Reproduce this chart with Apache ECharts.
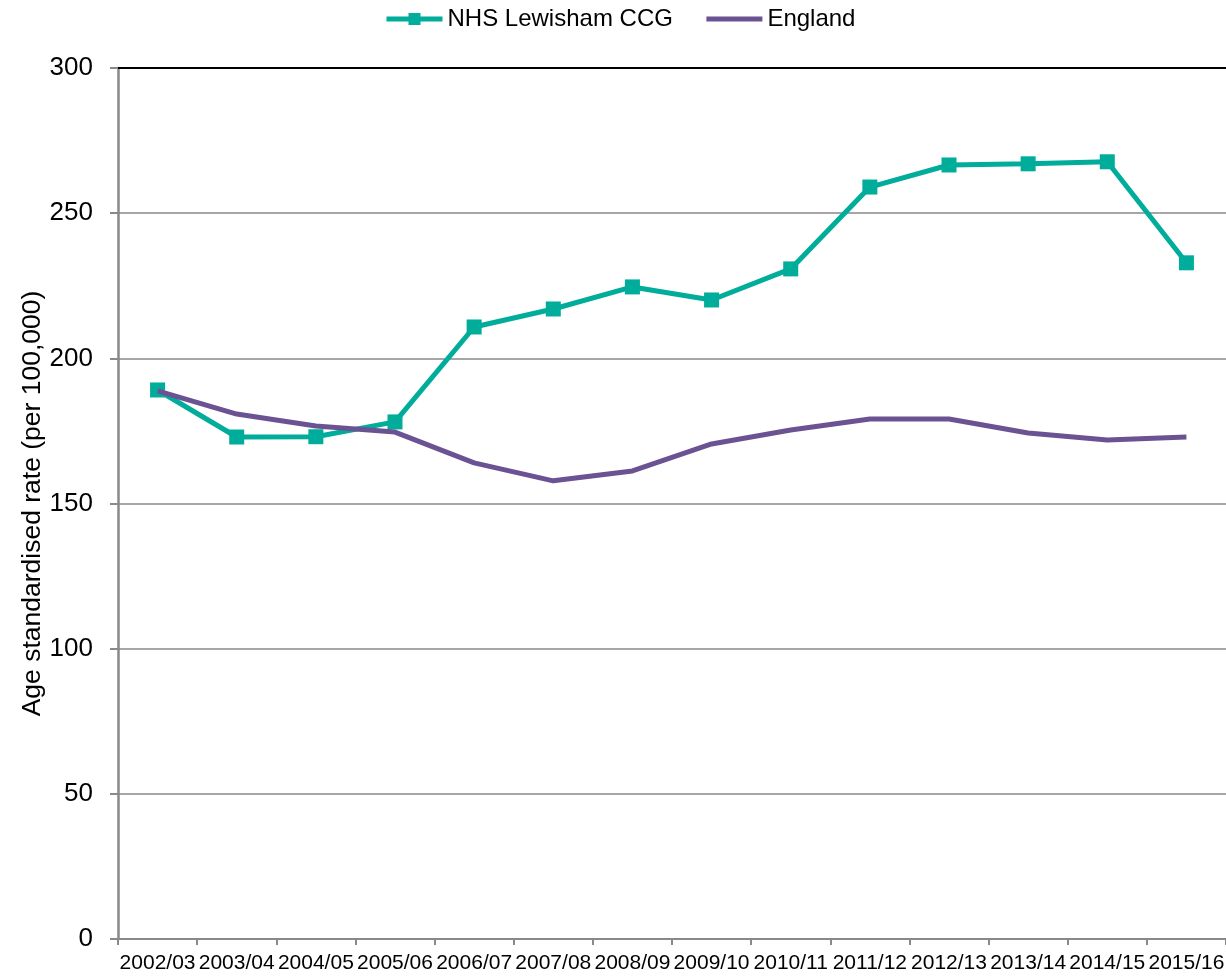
<!DOCTYPE html>
<html>
<head>
<meta charset="utf-8">
<script src="https://cdn.jsdelivr.net/npm/echarts@6/dist/echarts.min.js"></script>
<style>
html,body{margin:0;padding:0;background:#fff;}
#chart{width:1226px;height:977px;}
</style>
</head>
<body>
<div id="chart"></div>
<script>
var categories = ['2002/03','2003/04','2004/05','2005/06','2006/07','2007/08','2008/09','2009/10','2010/11','2011/12','2012/13','2013/14','2014/15','2015/16'];
var lewisham = [189.1, 172.9, 173.0, 178.1, 210.8, 217.0, 224.6, 220.1, 230.8, 259.0, 266.6, 267.0, 267.7, 232.9];
var england = [188.8, 180.8, 176.7, 174.6, 164.0, 157.8, 161.2, 170.5, 175.3, 179.1, 179.1, 174.3, 171.9, 172.9];
var yTicks = [0, 50, 100, 150, 200, 250, 300];

var FONT = '"Liberation Sans", Arial, sans-serif';
var chart = echarts.init(document.getElementById('chart'), null, {renderer: 'canvas'});
chart.setOption({
  animation: false,
  textStyle: {fontFamily: FONT, color: '#000'},
  legend: {
    top: 2,
    left: 379,
    itemWidth: 56,
    itemHeight: 15,
    itemGap: 31,
    textStyle: {fontFamily: FONT, fontSize: 24, color: '#000'},
    data: [
      {name: 'NHS Lewisham CCG', lineStyle: {width: 5}},
      {name: 'England', lineStyle: {width: 5}, itemStyle: {opacity: 0}}
    ]
  },
  grid: {left: 118, right: 0, top: 68, bottom: 38, containLabel: false, outerBoundsMode: 'none'},
  xAxis: [{
    type: 'category',
    data: categories,
    boundaryGap: true,
    axisLine: {lineStyle: {color: '#898989', width: 2}},
    axisTick: {show: true, length: 6, lineStyle: {color: '#898989', width: 2}},
    axisLabel: {interval: 0, fontSize: 21, color: '#000', margin: 14, fontFamily: FONT}
  }, {
    type: 'category',
    data: categories,
    position: 'top',
    axisLine: {lineStyle: {color: '#000', width: 2}},
    axisTick: {show: false},
    axisLabel: {show: false}
  }],
  yAxis: {
    type: 'value',
    min: yTicks[0],
    max: yTicks[yTicks.length - 1],
    interval: 50,
    name: 'Age standardised rate (per 100,000)',
    nameLocation: 'middle',
    nameGap: 72,
    nameMoveOverlap: false,
    nameRotate: 90,
    nameTextStyle: {fontSize: 26.5, color: '#000', fontFamily: FONT},
    axisLine: {show: true, lineStyle: {color: '#898989', width: 2.5}},
    axisTick: {show: true, length: 8, lineStyle: {color: '#898989', width: 2}},
    axisLabel: {fontSize: 26, color: '#000', margin: 25, fontFamily: FONT},
    splitLine: {show: true, lineStyle: {color: '#898989', width: 1.5}}
  },
  series: [{
    name: 'NHS Lewisham CCG',
    type: 'line',
    data: lewisham,
    symbol: 'rect',
    symbolSize: 15,
    showAllSymbol: true,
    lineStyle: {color: '#00AC9A', width: 5},
    itemStyle: {color: '#00AC9A'},
    z: 3
  }, {
    name: 'England',
    type: 'line',
    data: england,
    symbol: 'none',
    lineStyle: {color: '#6B5393', width: 5},
    itemStyle: {color: '#6B5393'},
    z: 4
  }]
});
</script>
</body>
</html>
